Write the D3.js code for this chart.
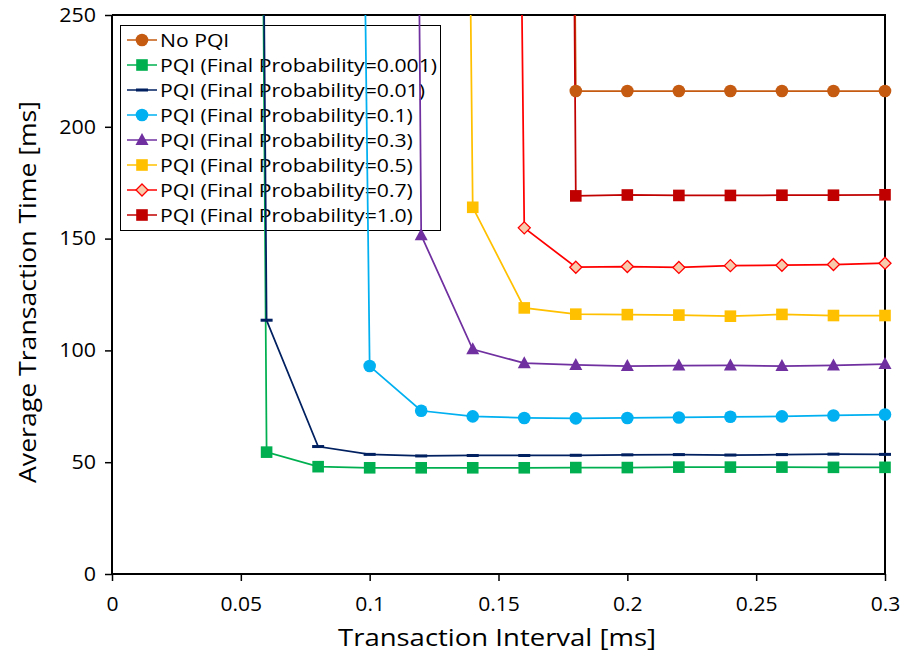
<!DOCTYPE html>
<html>
<head>
<meta charset="utf-8">
<script src="https://cdn.jsdelivr.net/npm/d3@7/dist/d3.min.js"></script>
<style>
  html, body { margin: 0; padding: 0; background: #fff; }
  svg { display: block; }
  text { font-family: "Open Sans", "Noto Sans", sans-serif; fill: #000; }
</style>
</head>
<body>
<script>
// Transaction intervals (ms)
const intervals = [0.04, 0.06, 0.08, 0.10, 0.12, 0.14, 0.16, 0.18, 0.20, 0.22, 0.24, 0.26, 0.28, 0.30];

// Average transaction time (ms) per series; null = not measured.
// Leading values above the axis range are the saturated runs.
const noPQI    = [null, null, null, null, null, null, 3000, 216, 216, 216, 216, 216, 216, 216];
const pqi0001  = [3300, 54.5, 48, 47.5, 47.5, 47.5, 47.5, 47.6, 47.6, 47.8, 47.8, 47.8, 47.7, 47.7];
const pqi001   = [3000, 113.5, 57, 53.5, 52.8, 53, 53, 53.1, 53.3, 53.4, 53.2, 53.4, 53.6, 53.5];
const pqi01    = [null, null, 2000, 93, 73, 70.5, 69.8, 69.6, 69.8, 70, 70.3, 70.5, 70.9, 71.3];
const pqi03    = [null, null, null, 3000, 151.5, 100.5, 94.3, 93.5, 93, 93.2, 93.3, 93, 93.3, 93.9];
const pqi05    = [null, null, null, null, 2350, 164, 119, 116.2, 116, 115.8, 115.3, 116.1, 115.6, 115.6];
const pqi07    = [null, null, null, null, null, 2300, 154.8, 137.2, 137.5, 137.1, 137.9, 138.1, 138.4, 139];
const pqi10    = [null, null, null, null, null, null, 3400, 169.1, 169.5, 169.3, 169.3, 169.4, 169.4, 169.6];

const seriesNames = [
  "No PQI",
  "PQI (Final Probability=0.001)",
  "PQI (Final Probability=0.01)",
  "PQI (Final Probability=0.1)",
  "PQI (Final Probability=0.3)",
  "PQI (Final Probability=0.5)",
  "PQI (Final Probability=0.7)",
  "PQI (Final Probability=1.0)"
];
const seriesValues = [noPQI, pqi0001, pqi001, pqi01, pqi03, pqi05, pqi07, pqi10];

const xTicks = [0, 0.05, 0.1, 0.15, 0.2, 0.25, 0.3];
const yTicks = [0, 50, 100, 150, 200, 250];

// Styling per series
const styles = [
  { line: "#c55a11", fill: "#c55a11", stroke: "none",    marker: "circle" },
  { line: "#00b050", fill: "#00b050", stroke: "none",    marker: "square" },
  { line: "#002060", fill: "#002060", stroke: "none",    marker: "dash" },
  { line: "#00b0f0", fill: "#00b0f0", stroke: "none",    marker: "circle" },
  { line: "#7030a0", fill: "#7030a0", stroke: "none",    marker: "triangle" },
  { line: "#ffc000", fill: "#ffc000", stroke: "none",    marker: "square" },
  { line: "#ff0000", fill: "#f8cbad", stroke: "#ff0000", marker: "diamond" },
  { line: "#c00000", fill: "#c00000", stroke: "none",    marker: "square" }
];

const W = 903, H = 657;
const m = { left: 112, right: 18, top: 15, bottom: 83 };
const iw = W - m.left - m.right, ih = H - m.top - m.bottom;

const svg = d3.select("body").append("svg").attr("width", W).attr("height", H);

const x = d3.scaleLinear().domain([0, 0.3]).range([m.left, m.left + iw]);
const y = d3.scaleLinear().domain([0, 250]).range([m.top + ih, m.top]);

svg.append("defs").append("clipPath").attr("id", "plot")
  .append("rect").attr("x", m.left).attr("y", m.top).attr("width", iw).attr("height", ih);

// Stretch a text node horizontally by a factor while keeping its font size
function widen(sel, factor) {
  sel.each(function () {
    const len = this.getComputedTextLength();
    d3.select(this).attr("textLength", len * factor).attr("lengthAdjust", "spacingAndGlyphs");
  });
}

// Axes
const xAxis = d3.axisBottom(x).tickValues(xTicks).tickSize(7).tickPadding(16)
  .tickFormat(d => d === 0 ? "0" : d3.format("~g")(d));
const yAxis = d3.axisLeft(y).tickValues(yTicks).tickSize(7).tickPadding(9);

const gx = svg.append("g").attr("transform", `translate(0,${m.top + ih})`).call(xAxis);
const gy = svg.append("g").attr("transform", `translate(${m.left},0)`).call(yAxis);
[gx, gy].forEach(g => {
  g.select(".domain").attr("stroke", "#000").attr("stroke-width", 2);
  g.selectAll(".tick line").attr("stroke", "#000").attr("stroke-width", 1.5);
  g.selectAll(".tick text").attr("font-size", 19.5).attr("font-family", "Open Sans");
});
widen(gx.selectAll(".tick text"), 1.08);
widen(gy.selectAll(".tick text"), 1.1);
gx.select(".domain").attr("d", `M${m.left},0H${m.left + iw}`);
gy.select(".domain").attr("d", `M0,${m.top}V${m.top + ih}`);

// Top and right border of the plot area
svg.append("path")
  .attr("d", `M${m.left},${m.top}H${m.left + iw}V${m.top + ih}`)
  .attr("fill", "none").attr("stroke", "#000").attr("stroke-width", 2);

// Axis titles
svg.append("text").attr("x", 497).attr("y", 646)
  .attr("text-anchor", "middle").attr("font-size", 24)
  .attr("textLength", 318).attr("lengthAdjust", "spacingAndGlyphs")
  .text("Transaction Interval [ms]");
svg.append("text").attr("transform", `translate(36,292) rotate(-90)`)
  .attr("text-anchor", "middle").attr("font-size", 24)
  .attr("textLength", 382).attr("lengthAdjust", "spacingAndGlyphs")
  .text("Average Transaction Time [ms]");

// Marker drawing
function drawMarker(g, s, cx, cy) {
  if (s.marker === "circle") {
    g.append("circle").attr("cx", cx).attr("cy", cy).attr("r", 6.3).attr("fill", s.fill);
  } else if (s.marker === "square") {
    g.append("rect").attr("x", cx - 5.8).attr("y", cy - 5.8).attr("width", 11.6).attr("height", 11.6).attr("fill", s.fill);
  } else if (s.marker === "dash") {
    g.append("rect").attr("x", cx - 6).attr("y", cy - 1.5).attr("width", 12).attr("height", 3).attr("fill", s.fill);
  } else if (s.marker === "triangle") {
    g.append("path").attr("d", `M${cx},${cy - 7}L${cx + 6.5},${cy + 5}L${cx - 6.5},${cy + 5}Z`).attr("fill", s.fill);
  } else if (s.marker === "diamond") {
    g.append("path").attr("d", `M${cx},${cy - 6}L${cx + 6},${cy}L${cx},${cy + 6}L${cx - 6},${cy}Z`)
      .attr("fill", s.fill).attr("stroke", s.stroke).attr("stroke-width", 1.3);
  }
}

// Legend (no fill, series are drawn over it)
const lg = svg.append("g");
lg.append("rect").attr("x", 120.5).attr("y", 25.5).attr("width", 320).attr("height", 205)
  .attr("fill", "none").attr("stroke", "#000").attr("stroke-width", 1);
seriesNames.forEach((name, i) => {
  const ly = 40 + i * 25;
  const s = styles[i];
  lg.append("line").attr("x1", 127).attr("x2", 157).attr("y1", ly).attr("y2", ly)
    .attr("stroke", s.line).attr("stroke-width", 1.5);
  drawMarker(lg, s, 142, ly);
  lg.append("text").attr("class", "legend-label").attr("x", 160).attr("y", ly + 7)
    .attr("font-size", 19).text(name);
});
// Widest entry spans to just inside the legend frame
const labels = lg.selectAll(".legend-label");
const widest = d3.max(labels.nodes(), n => n.getComputedTextLength());
widen(labels, 277 / widest);

// Series lines and markers
const line = d3.line().defined(d => d.v != null).x(d => x(d.t)).y(d => y(d.v));
const plot = svg.append("g").attr("clip-path", "url(#plot)");
seriesValues.forEach((vals, i) => {
  const pts = intervals.map((t, j) => ({ t, v: vals[j] })).filter(d => d.v != null);
  plot.append("path").datum(pts).attr("d", line)
    .attr("fill", "none").attr("stroke", styles[i].line).attr("stroke-width", 1.75);
});
const marks = svg.append("g");
seriesValues.forEach((vals, i) => {
  intervals.forEach((t, j) => {
    const v = vals[j];
    if (v != null && v <= 250) drawMarker(marks, styles[i], x(t), y(v));
  });
});
</script>
</body>
</html>
